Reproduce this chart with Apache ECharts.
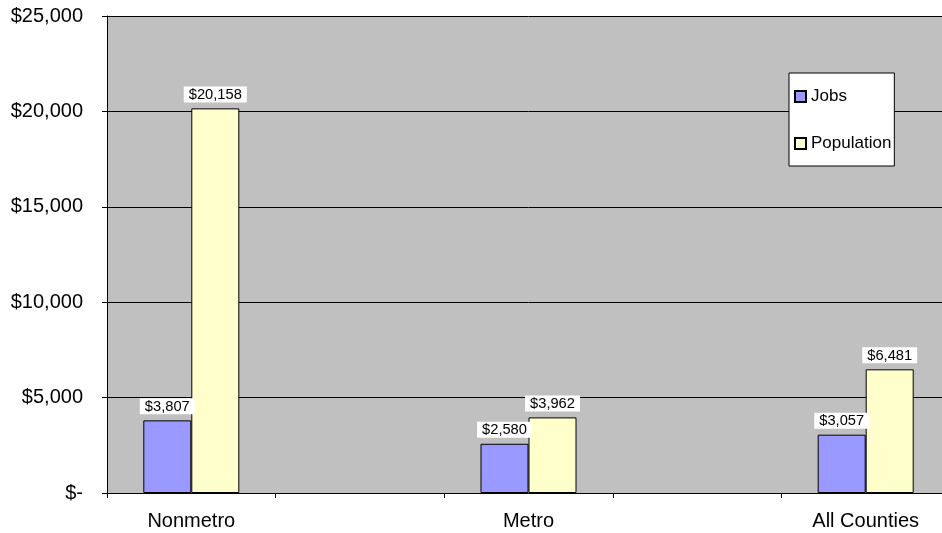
<!DOCTYPE html>
<html>
<head>
<meta charset="utf-8">
<script src="https://cdn.jsdelivr.net/npm/echarts@6/dist/echarts.min.js"></script>
<style>
  html, body { margin: 0; padding: 0; background: #ffffff; overflow: hidden; }
  /* plot area runs slightly past the right edge of the window */
  #chart { width: 950px; height: 533px; }
</style>
</head>
<body>
<div id="chart"></div>
<script>
// Categories (blank slots keep the wide spacing between groups)
const categories = ['Nonmetro', '', 'Metro', '', 'All Counties'];
const jobs = [3807, null, 2580, null, 3057];
const population = [20158, null, 3962, null, 6481];
const yTicks = [0, 5000, 10000, 15000, 20000, 25000];

const money = v => v === 0 ? '$-' : '$' + v.toLocaleString('en-US');
const FONT = 'Arial, "Liberation Sans", sans-serif';

const valueLabel = {
  show: true,
  position: 'top',
  distance: 6,
  backgroundColor: '#ffffff',
  padding: [1, 5, 0, 5],
  lineHeight: 15,
  color: '#000000',
  fontFamily: FONT,
  fontSize: 14.7,
  formatter: p => money(p.value)
};

const chart = echarts.init(document.getElementById('chart'), null, { renderer: 'canvas' });
chart.setOption({
  animation: false,
  backgroundColor: '#ffffff',
  grid: {
    left: 107, top: 16, right: 0, bottom: 40,
    show: true, backgroundColor: '#c0c0c0', borderWidth: 0
  },
  legend: {
    orient: 'vertical',
    left: 789, top: 73,
    backgroundColor: '#ffffff', borderColor: '#000000', borderWidth: 1,
    padding: [15, 3, 14, 5],
    itemGap: 30,
    itemWidth: 11, itemHeight: 11,
    icon: 'rect',
    textStyle: { fontFamily: FONT, fontSize: 17, color: '#000000' },
    data: ['Jobs', 'Population']
  },
  xAxis: {
    type: 'category',
    data: categories,
    axisLine: { lineStyle: { color: '#000000', width: 1 } },
    axisTick: { show: true, alignWithLabel: false, interval: 0, length: 5, lineStyle: { color: '#000000' } },
    axisLabel: { interval: 0, margin: 18, fontFamily: FONT, fontSize: 20, color: '#000000' },
    splitLine: { show: false }
  },
  yAxis: {
    type: 'value',
    min: yTicks[0], max: yTicks[yTicks.length - 1], interval: 5000,
    axisLine: { show: true, lineStyle: { color: '#000000', width: 1 } },
    axisTick: { show: true, length: 5, lineStyle: { color: '#000000' } },
    axisLabel: { margin: 24, fontFamily: FONT, fontSize: 20, color: '#000000', formatter: money },
    splitLine: { show: true, lineStyle: { color: '#000000', width: 1 } }
  },
  series: [
    {
      name: 'Jobs', type: 'bar', data: jobs,
      barWidth: 48, barGap: '0%',
      itemStyle: { color: '#9999ff', borderColor: '#000000', borderWidth: 1 },
      label: valueLabel
    },
    {
      name: 'Population', type: 'bar', data: population,
      barWidth: 48, barGap: '0%',
      itemStyle: { color: '#ffffcc', borderColor: '#000000', borderWidth: 1 },
      label: valueLabel
    }
  ]
});
</script>
</body>
</html>
